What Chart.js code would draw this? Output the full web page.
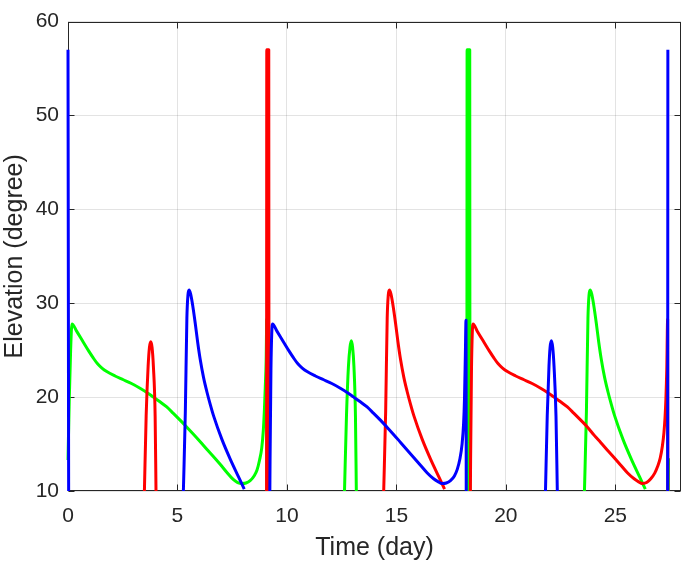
<!DOCTYPE html>
<html>
<head>
<meta charset="utf-8">
<script src="https://cdn.jsdelivr.net/npm/chart.js@4/dist/chart.umd.min.js"></script>
<style>
  html, body { margin: 0; padding: 0; background: #fff; }
  #wrap { width: 685px; height: 563px; }
</style>
</head>
<body>
<div id="wrap"><canvas id="c" width="685" height="563"></canvas></div>
<script>
"use strict";

// ── DATA ────────────────────────────────────
// null = satellite below 10 deg, line broken
const blueT = [0, 0.03, null,
  5.27, 5.36, 5.43, 5.48, 5.53, 5.6, 5.68, 5.81, 5.92, 6.04, 6.19, 6.34, 6.5, 6.65, 7.03, 7.41, 7.79, 8.05, null,
  9.22, 9.23, 9.27, 9.34, 9.55, 9.85, 10.1, 10.31, 10.5, 10.7, 10.92, 11.3, 11.68, 12.05, 12.44, 12.75, 13.05, 13.35, 13.66, 13.95, 14.27, 14.57, 14.9, 15.2, 15.5, 15.8, 16.1, 16.4, 16.7, 16.9, 17.09, 17.28, 17.47, 17.65, 17.78, 17.9, 18.0, 18.07, 18.11, 18.15, 18.18, 18.19, null,
  21.81, 21.89, 21.97, 22.02, 22.08, 22.14, 22.2, 22.29, 22.35, null,
  27.39, 27.40];
const blueE = [57, 10, null,
  10, 18.5, 28.4, 30.9, 31.4, 31.0, 30.0, 27.9, 25.9, 24.0, 22.1, 20.6, 19.2, 18.0, 15.5, 13.4, 11.5, 10.2, null,
  10, 13.5, 23, 27.8, 27.0, 25.85, 24.9, 24.15, 23.55, 23.1, 22.72, 22.25, 21.85, 21.45, 20.95, 20.5, 20.0, 19.5, 18.95, 18.3, 17.55, 16.8, 15.95, 15.15, 14.35, 13.55, 12.75, 11.95, 11.3, 11.0, 10.8, 10.85, 11.1, 11.6, 12.3, 13.4, 15.0, 17.2, 19.8, 24.5, 28.2, 10, null,
  10, 18, 23.3, 25.3, 26.0, 25.3, 23.3, 18, 10, null,
  10, 57];

const redT = [3.49, 3.57, 3.66, 3.72, 3.78, 3.84, 3.90, 3.98, 4.02, null,
  9.07, 9.08, 9.17, 9.18, null,
  14.42, 14.51, 14.58, 14.63, 14.68, 14.75, 14.83, 14.96, 15.07, 15.19, 15.34, 15.49, 15.65, 15.8, 16.18, 16.56, 16.94, 17.2, null,
  18.38, 18.39, 18.43, 18.5, 18.7, 19.0, 19.25, 19.46, 19.65, 19.85, 20.07, 20.45, 20.83, 21.2, 21.59, 21.9, 22.2, 22.5, 22.81, 23.1, 23.42, 23.73, 24.03, 24.34, 24.64, 24.95, 25.25, 25.55, 25.86, 26.05, 26.24, 26.43, 26.62, 26.8, 26.93, 27.05, 27.15, 27.22, 27.27, 27.31, 27.35, 27.39, 27.40];
const redE = [10, 18, 23.3, 25.3, 25.9, 25.3, 23.3, 18, 10, null,
  10, 57, 57, 10, null,
  10, 18.5, 28.4, 30.9, 31.4, 31.0, 30.0, 27.9, 25.9, 24.0, 22.1, 20.6, 19.2, 18.0, 15.5, 13.4, 11.5, 10.2, null,
  10, 13.5, 23, 27.8, 27.0, 25.85, 24.9, 24.15, 23.55, 23.1, 22.72, 22.25, 21.85, 21.45, 20.95, 20.5, 20.0, 19.5, 18.95, 18.3, 17.55, 16.8, 15.95, 15.15, 14.35, 13.55, 12.75, 11.95, 11.3, 11.0, 10.8, 10.9, 11.3, 11.9, 12.6, 13.5, 14.8, 16.2, 17.8, 19.8, 23.0, 28.3, 10];

const greenT = [0, 0.06, 0.12, 0.18, 0.4, 0.7, 0.95, 1.16, 1.35, 1.55, 1.77, 2.15, 2.53, 2.9, 3.29, 3.6, 3.9, 4.2, 4.51, 4.8, 5.12, 5.43, 5.73, 6.04, 6.34, 6.65, 6.95, 7.25, 7.56, 7.75, 7.94, 8.13, 8.32, 8.5, 8.63, 8.75, 8.85, 8.92, 8.97, 9.01, 9.05, 9.08, 9.09, null,
  12.63, 12.72, 12.81, 12.88, 12.94, 13.0, 13.06, 13.13, 13.17, null,
  18.22, 18.23, 18.35, 18.36, null,
  23.59, 23.68, 23.75, 23.8, 23.85, 23.92, 24.0, 24.13, 24.24, 24.36, 24.51, 24.66, 24.82, 24.97, 25.35, 25.73, 26.11, 26.37, null,
  27.42, 27.43];
const greenE = [13.3, 20, 25, 27.8, 27.0, 25.85, 24.9, 24.15, 23.55, 23.1, 22.72, 22.25, 21.85, 21.45, 20.95, 20.5, 20.0, 19.5, 18.95, 18.3, 17.55, 16.8, 16.05, 15.25, 14.45, 13.65, 12.85, 12.0, 11.2, 10.9, 10.8, 10.85, 11.1, 11.6, 12.2, 13.3, 14.6, 16.4, 18.6, 21.0, 23.8, 28.3, 10, null,
  10, 18, 23.3, 25.3, 26.0, 25.3, 23.3, 18, 10, null,
  10, 57, 57, 10, null,
  10, 18.5, 28.4, 30.9, 31.4, 31.0, 30.0, 27.9, 25.9, 24.0, 22.1, 20.6, 19.2, 18.0, 15.5, 13.4, 11.5, 10.2, null,
  10, 13.5];

const xTicks = [0, 5, 10, 15, 20, 25];
const yTicks = [10, 20, 30, 40, 50, 60];

// ── HELPERS ─────────────────────────────────
const AXIS_COLOR = "#262626";
const GRID_COLOR = "rgba(38,38,38,0.13)";
const FONT = "'Liberation Sans', Arial, Helvetica, sans-serif";

function pts(ts, es) {
  if (ts.length !== es.length) console.warn("length mismatch", ts.length, es.length);
  // a gap keeps the previous x so the data stays sorted
  return ts.map((t, i) => (t === null ? { x: ts[i - 1], y: null } : { x: t, y: es[i] }));
}

function series(ts, es, color) {
  return {
    data: pts(ts, es),
    borderColor: color,
    backgroundColor: color,
    borderWidth: 3,
    pointRadius: 0,
    cubicInterpolationMode: "monotone",
    borderJoinStyle: "round",
    spanGaps: false,
    clip: 4,
  };
}

// box round the plot + inward ticks (MATLAB look)
const boxPlugin = {
  id: "box",
  beforeDatasetsDraw(chart) {
    const { ctx, chartArea: a, scales } = chart;
    const L = Math.round(a.left) + 0.5, R = Math.round(a.right) - 0.5;
    const T = Math.round(a.top) + 0.5, B = Math.round(a.bottom) - 0.5;
    ctx.save();
    ctx.strokeStyle = AXIS_COLOR;
    ctx.lineWidth = 1;
    ctx.strokeRect(L, T, R - L, B - T);
    ctx.beginPath();
    xTicks.forEach((v) => {
      const px = Math.round(scales.x.getPixelForValue(v)) + 0.5;
      ctx.moveTo(px, B); ctx.lineTo(px, B - 6);
      ctx.moveTo(px, T); ctx.lineTo(px, T + 6);
    });
    yTicks.forEach((v) => {
      const py = Math.round(scales.y.getPixelForValue(v)) + 0.5;
      ctx.moveTo(L, py); ctx.lineTo(L + 6, py);
      ctx.moveTo(R, py); ctx.lineTo(R - 6, py);
    });
    ctx.stroke();
    ctx.restore();
  },
};

// ── CHART ───────────────────────────────────
new Chart(document.getElementById("c").getContext("2d"), {
  type: "line",
  data: {
    datasets: [
      series(blueT, blueE, "#0000ff"),
      series(redT, redE, "#ff0000"),
      series(greenT, greenE, "#00ff00"),
    ],
  },
  options: {
    responsive: false,
    devicePixelRatio: 1,
    animation: false,
    parsing: false,
    layout: { padding: { top: 12, right: 4, left: 0, bottom: 0 } },
    plugins: { legend: { display: false }, tooltip: { enabled: false } },
    scales: {
      x: {
        type: "linear",
        min: 0,
        max: 28,
        afterBuildTicks: (s) => { s.ticks = xTicks.map((v) => ({ value: v })); },
        afterFit: (s) => { s.height = 72; },
        grid: { color: GRID_COLOR, drawTicks: false },
        border: { display: false },
        ticks: { color: AXIS_COLOR, font: { family: FONT, size: 21 }, padding: 13, maxRotation: 0 },
        title: { display: true, text: "Time (day)", color: AXIS_COLOR, font: { family: FONT, size: 25 }, padding: { top: 0, bottom: 0 } },
      },
      y: {
        type: "linear",
        min: 10,
        max: 60,
        afterBuildTicks: (s) => { s.ticks = yTicks.map((v) => ({ value: v })); },
        afterFit: (s) => { s.width = 68; },
        grid: { color: GRID_COLOR, drawTicks: false },
        border: { display: false },
        ticks: { color: AXIS_COLOR, font: { family: FONT, size: 21 }, padding: 9 },
        title: { display: true, text: "Elevation (degree)", color: AXIS_COLOR, font: { family: FONT, size: 25 }, padding: { top: 0, bottom: 0 } },
      },
    },
  },
  plugins: [boxPlugin],
});
</script>
</body>
</html>
